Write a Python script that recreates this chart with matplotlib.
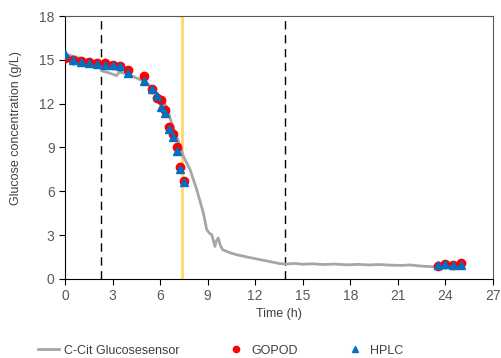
import numpy as np
import matplotlib.pyplot as plt

plt.rcParams['font.family'] = ['Liberation Sans', 'DejaVu Sans']

# sensor trace
sensor_t = [0.0, 0.1, 0.5, 1.0, 1.5, 2.0, 2.25, 2.3, 2.8, 3.26, 3.43, 4.0, 4.73,
            5.2, 5.57, 6.0, 6.4, 6.73, 7.1, 7.47, 7.89, 8.31, 8.73, 8.94, 9.1,
            9.26, 9.46, 9.55, 9.67, 9.8, 9.95, 10.4, 10.83, 11.5, 12.1, 12.8,
            13.56, 14.0, 14.5, 15.0, 15.6, 16.3, 17.0, 17.8, 18.5, 19.2, 19.8,
            20.5, 21.2, 21.8, 22.3, 22.8, 23.3]
sensor_c = [15.2, 15.36, 15.25, 15.1, 14.95, 14.75, 14.6, 14.25, 14.1, 13.92, 14.17,
            14.0, 13.65, 13.4, 12.97, 12.45, 11.8, 10.68, 9.6, 8.4, 7.49, 6.12,
            4.52, 3.38, 3.15, 3.03, 2.23, 2.6, 2.8, 2.3, 2.0, 1.8, 1.66, 1.5,
            1.37, 1.22, 1.05, 1.03, 1.06, 1.01, 1.04, 0.99, 1.02, 0.97, 1.0, 0.96,
            0.99, 0.95, 0.93, 0.96, 0.9, 0.86, 0.84]

gopod_t = [0.0, 0.5, 1.0, 1.5, 2.0, 2.5, 3.0, 3.5, 4.0, 5.0, 5.5, 5.8, 6.05, 6.3,
           6.55, 6.8, 7.05, 7.25, 7.5, 23.5, 24.0, 24.5, 25.0]
gopod_c = [15.14, 14.98, 14.9, 14.84, 14.75, 14.75, 14.68, 14.55, 14.3, 13.88,
           12.97, 12.4, 12.24, 11.6, 10.4, 9.9, 9.0, 7.64, 6.7, 0.91, 1.05, 0.96, 1.1]

hplc_t = gopod_t
hplc_c = [15.37, 14.98, 14.82, 14.75, 14.7, 14.63, 14.63, 14.57, 14.1, 13.58,
          12.97, 12.55, 11.8, 11.35, 10.3, 9.7, 8.77, 7.5, 6.66, 0.96, 1.03, 0.96, 0.99]

dashed_t = [2.3, 13.9]
induction_t = 7.38

fig = plt.figure(figsize=(5.01, 3.58), dpi=100)
ax = fig.add_axes([0.1297, 0.2207, 0.8543, 0.7346])

for t in dashed_t:
    ax.axvline(t, color='black', linestyle=(0, (6, 4)), linewidth=1.0, zorder=1)
ax.axvline(induction_t, color='#FFD966', linewidth=2.0, zorder=1)

ax.plot(sensor_t, sensor_c, color='#A6A6A6', linewidth=2.0,
        label='C-Cit Glucosesensor', zorder=2)
ax.plot(gopod_t, gopod_c, 'o', color='#FF0000', markersize=6, linestyle='none',
        label='GOPOD', zorder=3)
ax.plot(hplc_t, hplc_c, '^', color='#0070C0', markersize=6, linestyle='none',
        label='HPLC', zorder=4)

ax.set_xlim(0, 27)
ax.set_ylim(0, 18)
ax.set_xticks(np.arange(0, 28, 3))
ax.set_yticks(np.arange(0, 19, 3))
ax.tick_params(direction='out', length=4, colors='black', labelcolor='#595959',
               labelsize=10)
for s in ['top', 'right']:
    ax.spines[s].set_color('#595959')
for s in ['left', 'bottom']:
    ax.spines[s].set_color('black')

ax.set_xlabel('Time (h)', color='#404040', fontsize=9, labelpad=3)
ax.set_ylabel('Glucose concentration (g/L)', color='#404040', fontsize=9)
ax.yaxis.set_label_coords(-0.1, 0.574)

leg = fig.legend(loc='center', ncol=3, frameon=False, fontsize=9,
                 bbox_to_anchor=(0.44, 0.02), columnspacing=3.7,
                 handlelength=1.7, handletextpad=0.35, markerscale=0.75)
for txt in leg.get_texts():
    txt.set_color('#404040')

fig.savefig('out.png', dpi=100)
